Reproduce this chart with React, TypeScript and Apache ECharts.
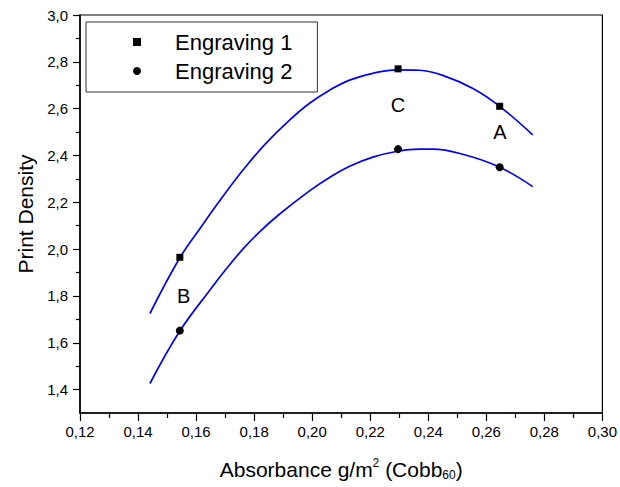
import React, { useEffect, useRef } from "react";
import * as echarts from "echarts";

const engraving1: [number, number][] = [
  [0.1544, 1.965],
  [0.2296, 2.77],
  [0.2646, 2.61],
];
const engraving2: [number, number][] = [
  [0.1544, 1.652],
  [0.2296, 2.427],
  [0.2646, 2.35],
];
const fit1: [number, number][] = [
  [0.1441, 1.725], [0.1544, 1.963], [0.1619, 2.098], [0.167, 2.187], [0.1728, 2.285],
  [0.1785, 2.373], [0.1843, 2.455], [0.1923, 2.552], [0.1992, 2.624], [0.206, 2.679],
  [0.2129, 2.722], [0.2209, 2.751], [0.229, 2.766], [0.237, 2.764], [0.245, 2.742],
  [0.2554, 2.686], [0.2646, 2.61], [0.276, 2.488],
];
const fit2: [number, number][] = [
  [0.1441, 1.426], [0.1544, 1.65], [0.1653, 1.834], [0.1705, 1.917], [0.1762, 2.001],
  [0.1819, 2.074], [0.1888, 2.15], [0.1992, 2.25], [0.206, 2.306], [0.2129, 2.354],
  [0.2209, 2.393], [0.229, 2.417], [0.237, 2.427], [0.2416, 2.427], [0.2519, 2.405],
  [0.2646, 2.35], [0.276, 2.267],
];
const annotations: { name: string; value: [number, number] }[] = [
  { name: "C", value: [0.2296, 2.617] },
  { name: "A", value: [0.2647, 2.502] },
  { name: "B", value: [0.1557, 1.801] },
];
const yMajorTicks = [1.4, 1.6, 1.8, 2.0, 2.2, 2.4, 2.6, 2.8, 3.0];
const yMinorTicks = [1.5, 1.7, 1.9, 2.1, 2.3, 2.5, 2.7, 2.9];

const FONT = "Liberation Sans, Arial, sans-serif";
const comma = (v: number, d: number) => v.toFixed(d).replace(".", ",");

export default function App() {
  const ref = useRef<HTMLDivElement>(null);
  useEffect(() => {
    if (!ref.current) return;
    const chart = echarts.init(ref.current, null, { renderer: "svg" });
    chart.setOption({
      animation: false,
      backgroundColor: "#fff",
      grid: {
        left: 80, right: 17, top: 15, bottom: 74,
        show: true, borderColor: "#000", borderWidth: 1.2,
      },
      legend: {
        left: 86, top: 22, orient: "vertical",
        data: [
          { name: "Engraving 1", icon: "rect" },
          { name: "Engraving 2", icon: "circle" },
        ],
        itemWidth: 8, itemHeight: 8, itemGap: 7,
        borderColor: "#333", borderWidth: 1, borderRadius: 0,
        padding: [9, 25, 10, 47],
        textStyle: { fontFamily: FONT, fontSize: 22, color: "#000", padding: [0, 0, 0, 29] },
      },
      xAxis: {
        type: "value", min: 0.12, max: 0.3, interval: 0.02,
        name: "Absorbance g/m{sup|2} (Cobb{sub|60})",
        nameLocation: "middle", nameGap: 44,
        nameTextStyle: {
          fontFamily: FONT, fontSize: 21, color: "#000",
          rich: {
            sup: { fontFamily: FONT, fontSize: 12, color: "#000", verticalAlign: "top", padding: [0, 0, 12, 0] },
            sub: { fontFamily: FONT, fontSize: 12, color: "#000", verticalAlign: "bottom", padding: [10, 0, 0, 0] },
          },
        },
        axisLine: { show: true, lineStyle: { color: "#000", width: 1.5 } },
        axisTick: { show: true, length: 8, lineStyle: { color: "#000", width: 1.2 } },
        minorTick: { show: true, splitNumber: 2, length: 5, lineStyle: { color: "#000", width: 1.2 } },
        splitLine: { show: false },
        axisLabel: {
          fontFamily: FONT, fontSize: 15, color: "#000", margin: 11,
          formatter: (v: number) => comma(v, 2),
        },
      },
      yAxis: [
        {
          type: "value", min: 1.3, max: 3.0,
          name: "Print Density", nameLocation: "middle", nameGap: 44,
          nameTextStyle: { fontFamily: FONT, fontSize: 21, color: "#000" },
          axisLine: { show: true, lineStyle: { color: "#000", width: 1.5 } },
          axisTick: { show: true, length: 7, customValues: yMajorTicks, lineStyle: { color: "#000", width: 1.2 } },
          splitLine: { show: false },
          axisLabel: {
            fontFamily: FONT, fontSize: 15, color: "#000", margin: 12,
            customValues: yMajorTicks,
            formatter: (v: number) => comma(v, 1),
          },
        },
        {
          type: "value", min: 1.3, max: 3.0, position: "left",
          axisLine: { show: false },
          axisTick: { show: true, length: 4, customValues: yMinorTicks, lineStyle: { color: "#000", width: 1.2 } },
          axisLabel: { show: false, customValues: yMinorTicks },
          splitLine: { show: false },
        },
      ],
      series: [
        {
          name: "fit1", type: "line", data: fit1, smooth: 0.4, showSymbol: false,
          lineStyle: { color: "#0000ff", width: 1.7 }, z: 2,
        },
        {
          name: "fit2", type: "line", data: fit2, smooth: 0.4, showSymbol: false,
          lineStyle: { color: "#0000ff", width: 1.7 }, z: 2,
        },
        {
          name: "Engraving 1", type: "scatter", data: engraving1, symbol: "rect", symbolSize: 7,
          itemStyle: { color: "#000", opacity: 1 }, z: 3,
        },
        {
          name: "Engraving 2", type: "scatter", data: engraving2, symbol: "circle", symbolSize: 8,
          itemStyle: { color: "#000", opacity: 1 }, z: 3,
        },
        {
          name: "labels", type: "scatter", data: annotations, symbolSize: 0,
          itemStyle: { opacity: 1 },
          label: {
            show: true, position: "inside", formatter: (p: any) => p.name,
            fontFamily: FONT, fontSize: 20, color: "#000",
          },
          z: 4,
        },
      ],
    });
    return () => chart.dispose();
  }, []);
  return (
    <div
      ref={ref}
      style={{ position: "absolute", left: 0, top: 0, width: 620, height: 487 }}
    />
  );
}
